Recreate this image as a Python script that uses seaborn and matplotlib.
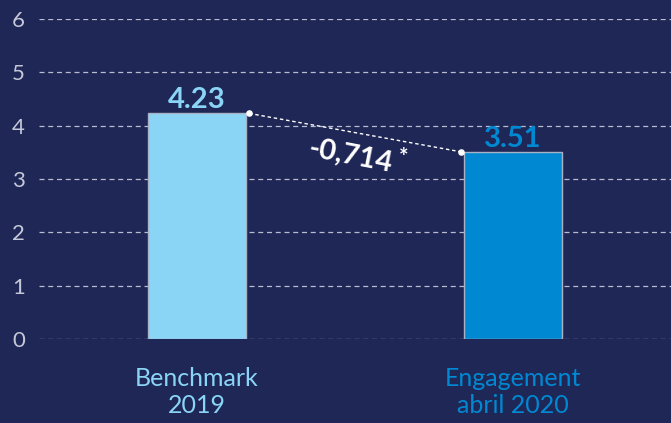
import seaborn as sns
import matplotlib.pyplot as plt
import pandas as pd

categories = ['Benchmark\n2019', 'Engagement\nabril 2020']
values = [4.23, 3.51]
value_labels = ['4.23', '3.51']
bar_colors = ['#8ad5f6', '#0089d2']
diff_label = '-0,714'
y_ticks = [0, 1, 2, 3, 4, 5, 6]

bg = '#1f2756'
grid_color = '#b9bdd0'

df = pd.DataFrame({'group': categories, 'score': values})

sns.set_style('dark')
plt.rcParams['font.family'] = ['Lato', 'DejaVu Sans']

fig = plt.figure(figsize=(6.71, 4.23), dpi=100)
fig.patch.set_facecolor(bg)
ax = fig.add_axes([39 / 671, (423 - 339) / 423, 632 / 671, 320 / 423])
ax.set_facecolor(bg)

sns.barplot(data=df, x='group', y='score', hue='group', palette=bar_colors,
            saturation=1, width=0.31, edgecolor='#a9b3c8', linewidth=1.0,
            legend=False, ax=ax, zorder=3)

ax.set_xlim(-0.5, 1.5)
ax.set_ylim(0, 6)
ax.set_yticks(y_ticks)
for y in y_ticks:
    ax.axhline(y, color=grid_color, linestyle=(0, (4, 3)), linewidth=0.9, zorder=1)
ax.grid(False)

for s in ax.spines.values():
    s.set_visible(False)

ax.tick_params(axis='y', length=0, pad=10, labelsize=16, labelcolor='#c4c8d8')
ax.tick_params(axis='x', length=0, pad=20, labelsize=18)
for lbl, c in zip(ax.get_xticklabels(), bar_colors):
    lbl.set_color(c)
    lbl.set_linespacing(1.2)
ax.set_xlabel('')
ax.set_ylabel('')

# value labels above bars
for i, (v, t, c) in enumerate(zip(values, value_labels, bar_colors)):
    ax.annotate(t, (i, v), xytext=(0, 0), textcoords='offset points',
                ha='center', va='bottom', fontsize=21, fontweight='bold', color=c)

# dotted connector between bar tops
half = 0.31 / 2
x0, x1 = 0 + half + 0.01, 1 - half - 0.01
ax.plot([x0, x1], values, color='white', linestyle=(0, (2.5, 2)), linewidth=1.0, zorder=4)
ax.scatter([x0, x1], values, color='white', s=14, zorder=5)

# difference annotation
ax.text(0.484, 3.43, diff_label, rotation=-11, ha='center', va='center',
        fontsize=21, fontweight='bold', color='white')
ax.text(0.654, 3.40, '*', ha='center', va='center', fontsize=16,
        fontweight='bold', color='white')

fig.savefig('out.png', dpi=100, facecolor=bg)
